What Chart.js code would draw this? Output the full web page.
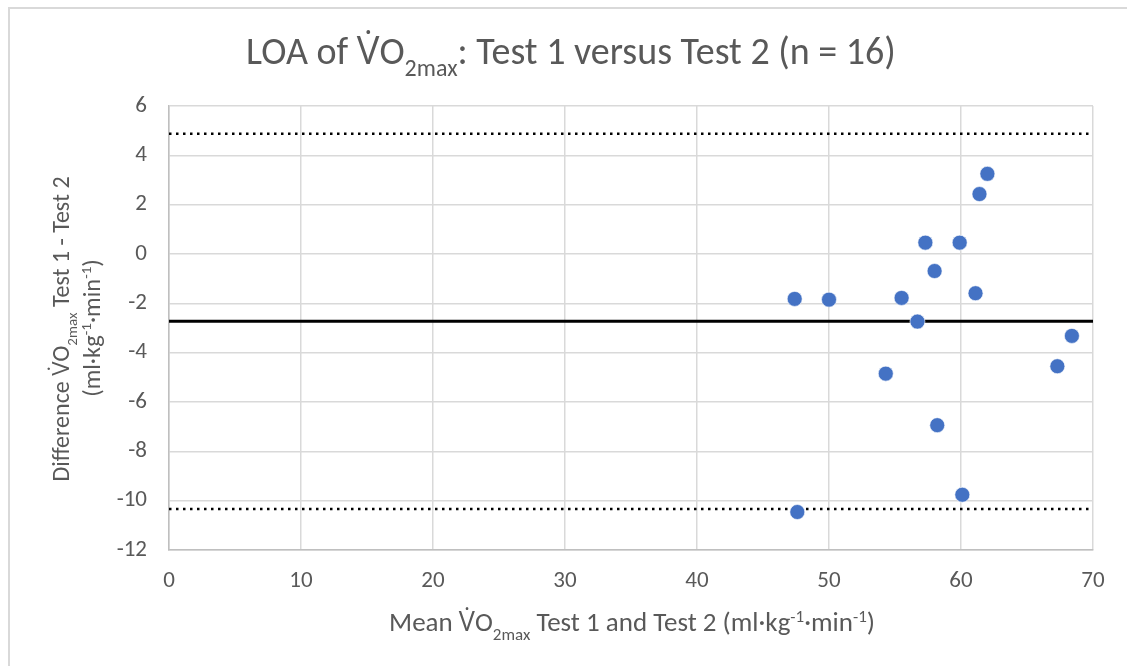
<!DOCTYPE html>
<html>
<head>
<meta charset="utf-8">
<title>LOA of VO2max</title>
<script src="https://cdn.jsdelivr.net/npm/chart.js@4.4.0/dist/chart.umd.min.js"></script>
<style>
    html, body { margin: 0; padding: 0; background: #fff; }
    #wrap { position: relative; width: 1127px; height: 666px; overflow: hidden; }
    #frame { position: absolute; left: 8px; top: 7px; width: 1200px; height: 700px;
             border-left: 2px solid #d9d9d9; border-top: 2px solid #d9d9d9; pointer-events: none; }
</style>
</head>
<body>
<div id="wrap">
    <canvas id="loaChart" width="1127" height="666"></canvas>
    <div id="frame"></div>
</div>
<script>
// Bland-Altman data: mean of the two tests vs difference
var meanValues = [47.4, 50.0, 55.5, 56.7, 57.3, 58.0, 59.9, 61.1, 61.4, 62.0, 68.4, 67.3, 54.3, 58.2, 60.1, 47.6];
var diffValues = [-1.82, -1.85, -1.78, -2.74, 0.46, -0.69, 0.46, -1.59, 2.43, 3.25, -3.32, -4.55, -4.85, -6.94, -9.76, -10.46];

var meanDiff = -2.73;
var upperLoa = 4.88;
var lowerLoa = -10.34;
var xRange = [0, 70];

var textColor = '#595959';
var fontFamily = "Carlito, 'Liberation Sans Narrow', 'Open Sans', sans-serif";

// draw a line of text made of normal / sub / sup pieces, centred on (cx, cy)
function drawRich(ctx, parts, cx, cy, size, rotate) {
    var small = Math.round(size * 0.62);
    ctx.save();
    ctx.translate(cx, cy);
    if (rotate) ctx.rotate(-Math.PI / 2);
    ctx.fillStyle = textColor;
    ctx.textBaseline = 'alphabetic';
    ctx.textAlign = 'left';
    var total = 0;
    parts.forEach(function(p) {
        ctx.font = (p[1] === 'n' ? size : small) + 'px ' + fontFamily;
        total += ctx.measureText(p[0]).width;
    });
    var x = -total / 2;
    var base = size * 0.35;
    parts.forEach(function(p) {
        ctx.font = (p[1] === 'n' ? size : small) + 'px ' + fontFamily;
        var dy = 0;
        if (p[1] === 'sub') dy = size * 0.3;
        if (p[1] === 'sup') dy = -size * 0.36;
        ctx.fillText(p[0], x, base + dy);
        x += ctx.measureText(p[0]).width;
    });
    ctx.restore();
}

var titlePlugin = {
    id: 'richTitles',
    afterDraw: function(chart) {
        var ctx = chart.ctx;
        var area = chart.chartArea;
        var midX = (area.left + area.right) / 2;
        var midY = (area.top + area.bottom) / 2;

        drawRich(ctx, [['LOA of V\u0307O', 'n'], ['2max', 'sub'], [': Test 1 versus Test 2 (n = 16)', 'n']],
            571, 51, 38, false);

        drawRich(ctx, [['Mean V\u0307O', 'n'], ['2max', 'sub'], [' Test 1 and Test 2 (ml\u00b7kg', 'n'],
            ['-1', 'sup'], ['\u00b7min', 'n'], ['-1', 'sup'], [')', 'n']],
            midX + 1, 622, 27, false);

        drawRich(ctx, [['Difference V\u0307O', 'n'], ['2max', 'sub'], [' Test 1 - Test 2', 'n']],
            61, midY + 1, 24, true);
        drawRich(ctx, [['(ml\u00b7kg', 'n'], ['-1', 'sup'], ['\u00b7min', 'n'], ['-1', 'sup'], [')', 'n']],
            91, midY, 24.5, true);
    }
};

var points = meanValues.map(function(m, i) {
    return { x: m, y: diffValues[i] };
});

function hLine(value) {
    return [{ x: xRange[0], y: value }, { x: xRange[1], y: value }];
}

var ctx = document.getElementById('loaChart').getContext('2d');
var loaChart = new Chart(ctx, {
    type: 'scatter',
    data: {
        datasets: [{
            label: 'Differences',
            data: points,
            backgroundColor: '#4472c4',
            borderColor: 'rgba(255,255,255,0.6)',
            borderWidth: 1,
            pointRadius: 7.5,
            order: 0
        }, {
            label: 'Mean difference',
            data: hLine(meanDiff),
            showLine: true,
            borderColor: '#000000',
            borderWidth: 3,
            pointRadius: 0,
            order: 1
        }, {
            label: 'Upper LOA',
            data: hLine(upperLoa),
            showLine: true,
            borderColor: '#000000',
            borderWidth: 2.5,
            borderDash: [2.5, 4.5],
            pointRadius: 0,
            order: 1
        }, {
            label: 'Lower LOA',
            data: hLine(lowerLoa),
            showLine: true,
            borderColor: '#000000',
            borderWidth: 2.5,
            borderDash: [2.5, 4.5],
            pointRadius: 0,
            order: 1
        }]
    },
    options: {
        responsive: false,
        animation: false,
        layout: { padding: { top: 106, right: 34, left: 0, bottom: 0 } },
        plugins: {
            legend: { display: false },
            tooltip: { enabled: false },
            title: { display: false }
        },
        scales: {
            x: {
                type: 'linear',
                min: 0,
                max: 70,
                afterFit: function(scale) { scale.height = 116; },
                ticks: { stepSize: 10, color: textColor, padding: 17,
                         font: { family: fontFamily, size: 23 } },
                grid: { color: '#d9d9d9', lineWidth: 1.5, drawTicks: false },
                border: { color: '#bfbfbf', width: 1.5 }
            },
            y: {
                type: 'linear',
                min: -12,
                max: 6,
                afterFit: function(scale) { scale.width = 169; },
                ticks: { stepSize: 2, color: textColor, padding: 22,
                         font: { family: fontFamily, size: 23 } },
                grid: { color: '#d9d9d9', lineWidth: 1.5, drawTicks: false },
                border: { color: '#bfbfbf', width: 1.5 }
            }
        }
    },
    plugins: [titlePlugin]
});
</script>
</body>
</html>
